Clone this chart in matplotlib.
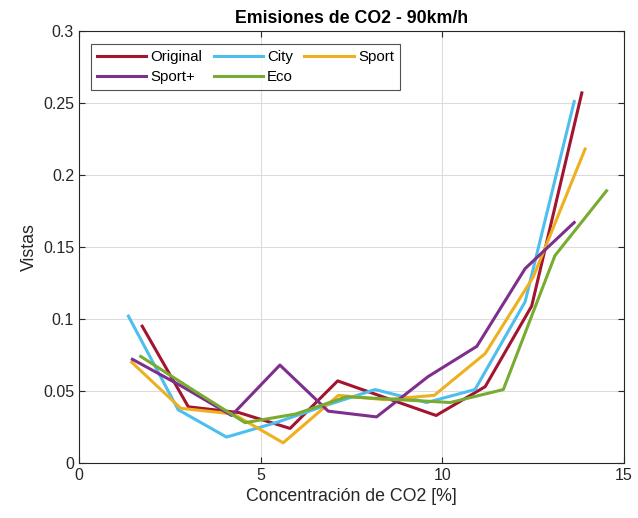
import numpy as np
import matplotlib.pyplot as plt

# data
x_orig = [1.74, 3.01, 4.40, 5.81, 7.12, 8.47, 9.83, 11.18, 12.46, 13.84]
y_orig = [0.095, 0.039, 0.035, 0.024, 0.057, 0.045, 0.033, 0.053, 0.109, 0.257]

x_city = [1.36, 2.73, 4.06, 5.42, 6.80, 8.15, 9.57, 10.90, 12.28, 13.63]
y_city = [0.102, 0.037, 0.018, 0.028, 0.040, 0.051, 0.042, 0.051, 0.112, 0.251]

x_sport = [1.45, 2.80, 4.25, 5.62, 7.14, 8.40, 9.78, 11.18, 12.50, 13.93]
y_sport = [0.070, 0.038, 0.034, 0.014, 0.047, 0.044, 0.047, 0.076, 0.129, 0.218]

x_sportp = [1.47, 2.85, 4.20, 5.53, 6.86, 8.19, 9.61, 10.95, 12.28, 13.63]
y_sportp = [0.072, 0.053, 0.033, 0.068, 0.036, 0.032, 0.060, 0.081, 0.135, 0.167]

x_eco = [1.70, 3.12, 4.57, 5.96, 7.37, 8.80, 10.22, 11.68, 13.10, 14.52]
y_eco = [0.074, 0.051, 0.028, 0.034, 0.046, 0.044, 0.042, 0.051, 0.144, 0.189]

series = [
    ("Original", x_orig, y_orig, "#A2142F"),
    ("City", x_city, y_city, "#4DBEEE"),
    ("Sport", x_sport, y_sport, "#EDB120"),
    ("Sport+", x_sportp, y_sportp, "#7E2F8E"),
    ("Eco", x_eco, y_eco, "#77AC30"),
]

plt.rcParams['font.family'] = ['Liberation Sans', 'DejaVu Sans']

fig = plt.figure(figsize=(6.38, 5.18), dpi=100)
ax = fig.add_axes([0.1238, 0.1062, 0.8542, 0.834])

lines = {}
for name, xs, ys, c in series:
    lines[name], = ax.plot(xs, ys, color=c, lw=2.2, label=name)

ax.set_xlim(0, 15)
ax.set_ylim(0, 0.3)
ax.set_xticks([0, 5, 10, 15])
ax.set_yticks(np.arange(0, 0.31, 0.05))
ax.set_yticklabels(['0', '0.05', '0.1', '0.15', '0.2', '0.25', '0.3'])
ax.grid(True, color='#dcdcdc', lw=0.8)
ax.set_axisbelow(True)
ax.tick_params(direction='in', labelsize=11.5, colors='#262626', length=4,
               top=True, right=True)
for s in ax.spines.values():
    s.set_color('#262626')
    s.set_linewidth(0.8)

ax.set_xlabel('Concentración de CO2 [%]', fontsize=12.8, color='#262626')
ax.set_ylabel('Vistas', fontsize=12.8, color='#262626')
ax.set_title('Emisiones de CO2 - 90km/h', fontsize=12.8, fontweight='bold', pad=6)

# legend filled row by row, like the original
order = ["Original", "Sport+", "City", "Eco", "Sport"]
leg = ax.legend([lines[n] for n in order], order, loc='upper left', ncol=3,
                fontsize=10.8, frameon=True, fancybox=False,
                edgecolor='#262626', handlelength=3.3, handletextpad=0.27,
                columnspacing=0.75, labelspacing=0.4, borderpad=0.4,
                borderaxespad=0, bbox_to_anchor=(0.022, 0.97))
leg.get_frame().set_linewidth(0.8)

fig.savefig('out.png', dpi=100)
